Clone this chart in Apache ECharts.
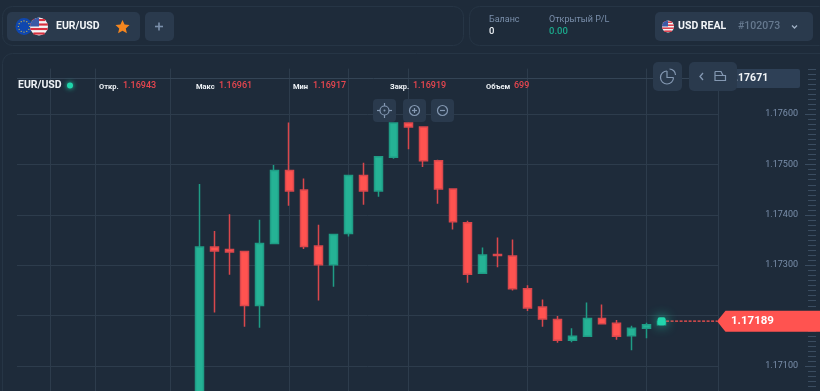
<!DOCTYPE html>
<html>
<head>
<meta charset="utf-8">
<style>
  html, body { margin: 0; padding: 0; background: #1e2b3a; }
  #chart { width: 820px; height: 391px; }
</style>
<script src="https://cdn.jsdelivr.net/npm/echarts@6/dist/echarts.min.js"></script>
</head>
<body>
<div id="chart"></div>
<script>
// candles, oldest first
const opens  = [1.17020,1.17336,1.17331,1.17327,1.17220,1.17343,1.17488,1.17449,1.17338,1.17301,1.17363,1.17478,1.17447,1.17514,1.17582,1.17574,1.17507,1.17451,1.17384,1.17284,1.17321,1.17318,1.17253,1.17217,1.17192,1.17151,1.17159,1.17194,1.17185,1.17160,1.17175,1.17182];
const closes = [1.17336,1.17328,1.17326,1.17220,1.17343,1.17488,1.17447,1.17337,1.17301,1.17361,1.17478,1.17447,1.17515,1.17582,1.17574,1.17507,1.17451,1.17386,1.17282,1.17320,1.17319,1.17253,1.17215,1.17193,1.17151,1.17159,1.17194,1.17184,1.17159,1.17175,1.17182,1.17189];
const lows   = [1.17010,1.17206,1.17281,1.17178,1.17176,1.17343,1.17418,1.17332,1.17230,1.17257,1.17357,1.17420,1.17436,1.17511,1.17530,1.17495,1.17422,1.17371,1.17265,1.17284,1.17296,1.17250,1.17209,1.17178,1.17146,1.17147,1.17159,1.17184,1.17152,1.17131,1.17155,1.17182];
const highs  = [1.17461,1.17368,1.17401,1.17327,1.17390,1.17499,1.17583,1.17472,1.17380,1.17361,1.17478,1.17503,1.17515,1.17582,1.17582,1.17574,1.17509,1.17451,1.17388,1.17335,1.17355,1.17351,1.17260,1.17232,1.17199,1.17175,1.17226,1.17222,1.17191,1.17180,1.17186,1.17190];

const lastPrice = 1.17189;
const crossPrice = 1.17671;
const leadingEmpty = 12;   // empty bars left of the first candle
const trailingEmpty = 4;
const gridBars = [2, 5, 10, 18, 22, 26, 34, 42];   // vertical grid lines, bar index

const yMin = 1.17, yMax = 1.1769;

const upColor = '#25b295', downColor = '#ff5350';
const bg = '#1e2b3a', lineColor = '#2d3c4c', btn = '#2a3a4d', muted = '#7a8fab';
const icon = '#8498b2', valueRed = '#e8464f', tickColor = '#3a4c60';
const font = 'Roboto';

const categories = [];
for (let i = 0; i < leadingEmpty + opens.length + trailingEmpty; i++) categories.push(String(i));
const candleData = categories.map(function (c, i) {
  const k = i - leadingEmpty;
  if (k < 0 || k >= opens.length) return ['-', '-', '-', '-'];
  return [opens[k], closes[k], lows[k], highs[k]];
});
const lastIndex = leadingEmpty + opens.length - 1;

function label(x, y, text, color, size, weight) {
  return { type: 'text', x: x, y: y, z: 20, silent: true, style: {
    text: text, fill: color, font: (weight || 400) + ' ' + size + 'px ' + font, textVerticalAlign: 'middle'
  } };
}
function box(x, y, w, h, r, fill, stroke) {
  return { type: 'rect', z: 15, silent: true, shape: { x: x, y: y, width: w, height: h, r: r },
    style: { fill: fill || 'none', stroke: stroke || 'none', lineWidth: 1 } };
}
function circle(cx, cy, r, fill, stroke, lw) {
  return { type: 'circle', z: 20, silent: true, shape: { cx: cx, cy: cy, r: r },
    style: { fill: fill || 'none', stroke: stroke || 'none', lineWidth: lw || 1 } };
}
function seg(x1, y1, x2, y2, color, lw) {
  return { type: 'line', z: 20, silent: true, shape: { x1: x1, y1: y1, x2: x2, y2: y2 },
    style: { stroke: color, lineWidth: lw || 1.2 } };
}
function poly(points, color, lw) {
  return { type: 'polyline', z: 22, silent: true, shape: { points: points },
    style: { fill: 'none', stroke: color, lineWidth: lw || 1.3 } };
}
function euFlag(cx, cy, r) {
  const parts = [circle(cx, cy, r, '#0f47af')];
  for (let i = 0; i < 12; i++) {
    const a = i * Math.PI / 6;
    parts.push(circle(cx + Math.cos(a) * r * 0.66, cy + Math.sin(a) * r * 0.66, 0.6, '#e8c53a'));
  }
  return parts;
}
function usFlag(cx, cy, r) {
  const parts = [circle(cx, cy, r, '#f4f4f6')];
  for (let i = 0; i < 4; i++) {
    const dy = -r + r * (0.28 + i * 0.5);
    const half = Math.sqrt(Math.max(r * r - dy * dy, 0));
    parts.push(seg(cx - half, cy + dy, cx + half, cy + dy, '#d8303f', r * 0.24));
  }
  parts.push({ type: 'sector', z: 21, silent: true,
    shape: { cx: cx, cy: cy, r: r, startAngle: Math.PI, endAngle: Math.PI * 1.5 },
    style: { fill: '#3c5aa6' } });
  return parts;
}

const graphics = [
  // panel outlines
  box(2.5, 6.5, 461, 39, 10, 'none', '#263545'),
  box(469.5, 6.5, 360, 39, 10, 'none', '#263545'),
  box(2.5, 53.5, 840, 360, 10, 'none', '#263545'),

  // symbol tab
  box(7, 12, 133, 29, 5, btn)
].concat(euFlag(24, 26.5, 8.5), usFlag(39, 26.5, 9), [
  label(56, 26.5, 'EUR/USD', '#f2f5f8', 10.5, 700),
  { type: 'polygon', z: 20, silent: true,
    shape: { points: [[122.5, 20], [124.6, 24.6], [129.5, 25.1], [125.8, 28.4], [126.9, 33.3], [122.5, 30.8], [118.1, 33.3], [119.2, 28.4], [115.5, 25.1], [120.4, 24.6]] },
    style: { fill: '#f5861f' } },
  box(145, 12, 29, 29, 5, btn),
  seg(155, 26.5, 163, 26.5, '#7b90ab', 1.6),
  seg(159, 22.5, 159, 30.5, '#7b90ab', 1.6),

  // balance
  label(489, 20, 'Баланс', muted, 9),
  label(489, 32, '0', '#eef2f6', 9.5, 500),
  label(549, 20, 'Открытый P/L', muted, 9),
  label(549, 32, '0.00', '#1ba98c', 9.5, 500),

  // account
  box(655, 12, 158, 29, 5, btn)
]).concat(usFlag(668, 26.5, 6), [
  label(678, 26.5, 'USD REAL', '#f2f5f8', 10.5, 700),
  label(738, 26.5, '#102073', '#66798f', 10.5, 500),
  poly([[792, 25.5], [794.5, 28], [797, 25.5]], '#9fb0c4'),

  // ohlc row
  label(18, 85.5, 'EUR/USD', '#eef2f6', 10.5, 700),
  { type: 'circle', z: 20, silent: true, shape: { cx: 70, cy: 85.5, r: 3 },
    style: { fill: '#1fd6ab', shadowBlur: 5, shadowColor: '#1fd6ab' } },
  label(99, 87, 'Откр.', '#eef2f6', 7.5, 700),
  label(123, 86, '1.16943', valueRed, 9, 500),
  label(196, 87, 'Макс', '#eef2f6', 7.5, 700),
  label(219, 86, '1.16961', valueRed, 9, 500),
  label(293, 87, 'Мин', '#eef2f6', 7.5, 700),
  label(313, 86, '1.16917', valueRed, 9, 500),
  label(390, 87, 'Закр.', '#eef2f6', 7.5, 700),
  label(413, 86, '1.16919', valueRed, 9, 500),
  label(486, 87, 'Объем', '#eef2f6', 7.5, 700),
  label(514, 86, '699', valueRed, 9, 500),

  // zoom buttons
  box(373, 99, 23, 23, 4, btn),
  circle(384.5, 110.5, 4.5, 'none', icon, 1.2),
  circle(384.5, 110.5, 1, icon),
  seg(384.5, 103, 384.5, 106, icon), seg(384.5, 115, 384.5, 118, icon),
  seg(377, 110.5, 380, 110.5, icon), seg(389, 110.5, 392, 110.5, icon),
  box(403, 99, 23, 23, 4, btn),
  circle(414.5, 110.5, 5, 'none', icon, 1.2),
  seg(412, 110.5, 417, 110.5, icon), seg(414.5, 108, 414.5, 113, icon),
  box(431, 99, 23, 23, 4, btn),
  circle(442.5, 110.5, 5, 'none', icon, 1.2),
  seg(440, 110.5, 445, 110.5, icon),

  // crosshair price box, the buttons sit over it
  box(730, 69, 70, 19, 2, '#2e4056'),
  label(729, 78.5, '1.17671', '#f2f5f8', 10.5, 700),
  { type: 'rect', z: 18, silent: true, shape: { x: 653, y: 62, width: 29, height: 29, r: 5 }, style: { fill: btn } },
  { type: 'arc', z: 22, silent: true, shape: { cx: 667, cy: 77.5, r: 6.5, startAngle: 0, endAngle: Math.PI * 1.5 },
    style: { fill: 'none', stroke: icon, lineWidth: 1.2 } },
  poly([[667, 71], [667, 77.5], [673.5, 77.5]], icon, 1.2),
  { type: 'arc', z: 22, silent: true, shape: { cx: 669.5, cy: 75, r: 6, startAngle: -Math.PI / 2, endAngle: 0 },
    style: { fill: 'none', stroke: icon, lineWidth: 1.2 } },
  { type: 'rect', z: 21, silent: true, shape: { x: 689, y: 62, width: 48, height: 29, r: 5 }, style: { fill: btn } },
  poly([[703, 73], [700, 76.5], [703, 80]], icon),
  poly([[715, 71.5], [721, 71.5], [723, 75.5], [715, 75.5]], icon, 1.2),
  poly([[715, 71.5], [715, 80.5], [725.5, 80.5], [725.5, 75.5], [723, 75.5]], icon, 1.2)
]);

// crosshair line, scale border and ticks, last candle glow, dashed price line and the price tag
function renderLast(params, api) {
  const p = api.coord([lastIndex, lastPrice]);
  const cy = Math.round(api.coord([lastIndex, crossPrice])[1]) + 0.5;
  const tagX = 717;
  const children = [
    { type: 'line', shape: { x1: 17, y1: cy, x2: 730, y2: cy }, style: { stroke: '#344455', lineWidth: 1 } },
    { type: 'line', shape: { x1: 718.5, y1: 68, x2: 718.5, y2: 391 }, style: { stroke: lineColor, lineWidth: 1 } }
  ];
  // scale ticks every 0.0001, longer on the labelled prices
  for (let t = 11705; t <= 11769; t++) {
    const ty = Math.round(api.coord([lastIndex, t / 10000])[1]) + 0.5;
    children.push({ type: 'line', shape: { x1: t % 10 === 0 ? 805 : 808, y1: ty, x2: 816, y2: ty },
      style: { stroke: tickColor, lineWidth: 1 } });
  }
  return {
    type: 'group',
    children: children.concat([
      { type: 'line', shape: { x1: p[0], y1: p[1], x2: tagX, y2: p[1] },
        style: { stroke: downColor, lineWidth: 1.3, lineDash: [3, 1.5] } },
      { type: 'rect', shape: { x: p[0] - 4, y: p[1] - 4, width: 8, height: 8, r: 2 },
        style: { fill: '#22d6ac', shadowBlur: 12, shadowColor: '#1fe0b4' } },
      { type: 'polygon', shape: { points: [[tagX, p[1]], [tagX + 8.5, p[1] - 10.5], [820, p[1] - 10.5], [820, p[1] + 10.5], [tagX + 8.5, p[1] + 10.5]] },
        style: { fill: downColor } },
      { type: 'text', x: 731, y: p[1], style: { text: String(lastPrice), fill: '#fff', font: '700 11.5px ' + font, textVerticalAlign: 'middle' } }
    ])
  };
}

const chart = echarts.init(document.getElementById('chart'), null, { renderer: 'canvas' });
chart.setOption({
  animation: false,
  backgroundColor: bg,
  graphic: graphics,
  // grid 0 holds the candles, grid 1 the price scale
  grid: [
    { left: 13.45, top: 68.6, width: categories.length * 14.9, height: 347.8, outerBoundsMode: 'none' },
    { left: 17, top: 68.6, width: 701, height: 347.8, outerBoundsMode: 'none' }
  ],
  xAxis: [
    { type: 'category', gridIndex: 0, data: categories, show: false },
    { type: 'category', gridIndex: 1, data: categories, show: false }
  ],
  yAxis: [
    { type: 'value', gridIndex: 0, min: yMin, max: yMax, show: false, splitLine: { show: false } },
    { type: 'value', gridIndex: 1, min: yMin, max: yMax, interval: 0.001, position: 'right', offset: 98,
      axisLine: { show: false },
      axisTick: { show: false },
      axisLabel: { show: true, inside: true, margin: 18, align: 'right', showMaxLabel: false, showMinLabel: false, color: muted, fontSize: 9, fontFamily: font,
        formatter: function (v) { return v.toFixed(5); } },
      splitLine: { show: true, showMaxLine: false, lineStyle: { color: lineColor } } }
  ],
  series: [
    {
      type: 'candlestick', xAxisIndex: 0, yAxisIndex: 0, barWidth: 8.4, data: candleData, z: 5,
      itemStyle: { color: upColor, color0: downColor, borderColor: '#1f9c85', borderColor0: '#d9474c', borderWidth: 1.5 },
      markLine: {
        silent: true, symbol: 'none', label: { show: false }, z: 1, animation: false,
        lineStyle: { color: lineColor, type: 'solid', width: 1 },
        data: gridBars.map(function (i) { return { xAxis: String(i) }; })
      }
    },
    {
      type: 'custom', xAxisIndex: 0, yAxisIndex: 0, clip: false, z: 10, data: [[lastIndex, lastPrice]],
      encode: { x: 0, y: 1 }, renderItem: renderLast
    },
    { type: 'line', xAxisIndex: 1, yAxisIndex: 1, data: [], z: 2 }
  ]
});
</script>
</body>
</html>
